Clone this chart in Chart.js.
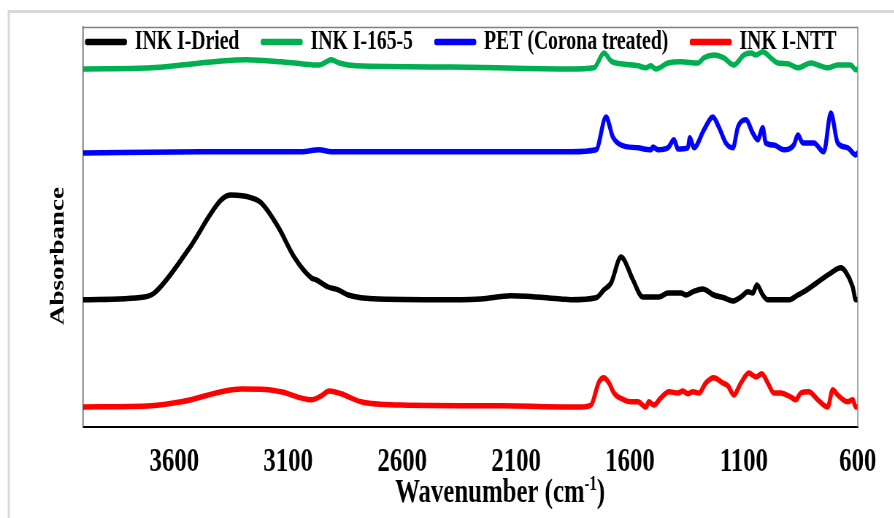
<!DOCTYPE html>
<html>
<head>
<meta charset="utf-8">
<title>FTIR spectra</title>
<script src="https://cdn.jsdelivr.net/npm/chart.js@4.4.1/dist/chart.umd.min.js"></script>
<style>
    html, body { margin: 0; padding: 0; background: #fff; overflow: hidden; }
    /* the original figure is squeezed horizontally, so draw wide and scale x */
    #wrap {
        position: absolute; left: 0; top: 0;
        width: 1225px; height: 518px;
        transform: scaleX(0.73); transform-origin: 0 0;
    }
</style>
</head>
<body>
<div id="wrap"><canvas id="ftirChart"></canvas></div>
<script>
const xTickValues = [3600, 3100, 2600, 2100, 1600, 1100, 600];
const xTitle = 'Wavenumber (cm';
const xTitleSup = '-1';
const yTitle = 'Absorbance';

// INK I-Dried
const driedWn = [4000, 3732, 3688, 3539, 3394, 3350, 3262, 3218, 3144, 3074, 2999, 2977, 2925, 2881, 2837, 2705,
    2341, 2254, 2122, 1903, 1859, 1749, 1714, 1683, 1639, 1626, 1587, 1543, 1473, 1433, 1376, 1354, 1324, 1280,
    1232, 1188, 1148, 1113, 1082, 1061, 1043, 1017, 995, 903, 863, 837, 718, 675, 653, 622, 609, 600];
const driedAbs = [31.8, 32.5, 33.5, 44.3, 56.8, 58.0, 57.3, 56.0, 50.0, 42.5, 37.3, 36.8, 35.0, 34.3, 33.0, 32.0,
    31.8, 32.0, 32.8, 32.0, 31.8, 32.3, 34.3, 36.0, 42.5, 41.8, 36.8, 32.5, 32.5, 33.5, 33.5, 33.0, 33.8, 34.5,
    33.0, 32.3, 31.5, 32.5, 33.8, 33.5, 35.5, 33.0, 31.8, 31.8, 33.0, 33.8, 38.5, 39.8, 38.8, 35.0, 31.8, 31.8];

// INK I-165-5
const ink165Wn = [4000, 3701, 3569, 3394, 3284, 3131, 3043, 2964, 2933, 2911, 2876, 2802, 2385, 1859, 1758, 1714,
    1683, 1639, 1565, 1530, 1508, 1486, 1433, 1376, 1302, 1275, 1232, 1188, 1144, 1100, 1069, 1047, 1017, 982,
    951, 907, 863, 806, 775, 732, 688, 631, 609, 600];
const ink165Abs = [89.5, 89.8, 90.5, 91.5, 91.8, 91.3, 90.8, 90.5, 91.3, 91.8, 91.0, 90.3, 90.0, 89.5, 89.8, 93.5,
    91.5, 90.8, 90.3, 89.8, 90.3, 89.5, 91.0, 91.3, 91.0, 92.3, 93.0, 92.3, 90.5, 93.0, 93.5, 93.0, 93.8, 92.3,
    91.0, 90.8, 89.8, 91.0, 90.5, 89.8, 90.5, 90.5, 89.3, 89.5];

// PET (Corona treated)
const petWn = [4000, 3482, 3043, 2964, 2911, 2385, 1859, 1749, 1705, 1675, 1639, 1565, 1508, 1499, 1477, 1433,
    1407, 1389, 1346, 1337, 1319, 1275, 1236, 1210, 1179, 1148, 1126, 1091, 1061, 1039, 1017, 1004, 968, 925,
    881, 863, 841, 793, 749, 718, 688, 644, 609, 600];
const petAbs = [68.5, 68.8, 68.8, 69.3, 68.8, 68.8, 68.8, 69.3, 77.5, 72.5, 70.5, 69.8, 69.3, 70.0, 69.3, 69.8,
    71.8, 69.5, 69.8, 72.3, 69.8, 74.3, 77.5, 75.0, 71.0, 69.8, 75.0, 76.8, 73.5, 71.8, 74.8, 71.0, 70.5, 69.3,
    70.5, 73.0, 71.0, 71.0, 68.8, 78.5, 71.0, 69.8, 68.0, 68.5];

// INK I-NTT
const nttWn = [4000, 3701, 3569, 3306, 3197, 3131, 2999, 2955, 2920, 2868, 2780, 2604, 2166, 1815, 1771, 1736,
    1714, 1692, 1670, 1626, 1596, 1565, 1530, 1517, 1495, 1464, 1429, 1389, 1368, 1346, 1324, 1297, 1267, 1232,
    1192, 1170, 1144, 1113, 1078, 1047, 1021, 995, 968, 938, 894, 872, 850, 815, 775, 732, 710, 688, 644, 622,
    609, 600];
const nttAbs = [5.0, 5.3, 6.3, 9.5, 9.4, 8.8, 6.8, 7.8, 9.0, 8.3, 6.3, 5.5, 5.3, 5.0, 5.5, 11.3,
    12.3, 11.0, 8.5, 6.8, 6.3, 6.3, 5.0, 6.3, 5.5, 7.3, 8.8, 8.5, 9.0, 8.3, 8.8, 8.5, 11.0, 12.3,
    11.0, 10.3, 8.0, 11.0, 13.5, 12.5, 13.3, 11.0, 8.5, 8.5, 7.5, 6.8, 8.5, 8.8, 6.8, 5.0, 9.3, 8.0, 6.3, 6.8,
    5.0, 5.0];

const FONT = "'Liberation Serif', 'Times New Roman', serif";
const LEGEND_FONT = 27;

function makeDataset(label, color, wn, abs) {
    return {
        label: label,
        data: wn.map((x, i) => ({ x: x, y: abs[i] })),
        borderColor: color,
        backgroundColor: color,
        borderWidth: 5.5,
        borderJoinStyle: 'round',
        borderCapStyle: 'round',
        pointRadius: 0,
        cubicInterpolationMode: 'monotone',
    };
}

// frame, axis titles and legend placement inside the plot box
const decorPlugin = {
    id: 'decor',
    afterLayout(chart) {
        const lg = chart.legend;
        const area = chart.chartArea;
        const pad = lg.options.labels.padding;
        // widen the box on both sides so the single row never wraps
        lg.left = area.left - 12 - 200;
        lg.right = area.right - 12 + 200;
        lg.top = area.top + 15 - pad - LEGEND_FONT / 2;
        lg.bottom = lg.top + 90;
    },
    beforeDraw(chart) {
        const ctx = chart.ctx;
        ctx.save();
        ctx.strokeStyle = '#d9d9d9';
        ctx.lineWidth = 3;
        ctx.strokeRect(12, 11.5, chart.width + 40, chart.height + 40);
        ctx.restore();
    },
    afterDraw(chart) {
        const ctx = chart.ctx;
        const a = chart.chartArea;
        ctx.save();
        ctx.strokeStyle = '#808080';
        ctx.lineWidth = 1.4;
        ctx.beginPath();
        ctx.moveTo(a.left, a.top + 0.5);
        ctx.lineTo(a.right, a.top + 0.5);
        ctx.lineTo(a.right, a.bottom);
        ctx.stroke();

        ctx.fillStyle = '#000';
        // y title
        ctx.save();
        ctx.font = 'bold 27px ' + FONT;
        ctx.textAlign = 'center';
        ctx.textBaseline = 'alphabetic';
        ctx.translate(87, 256);
        ctx.rotate(-Math.PI / 2);
        ctx.fillText(yTitle, 0, 0);
        ctx.restore();

        // x title with superscript
        const mainFont = 'bold 34px ' + FONT;
        const supFont = 'bold 20px ' + FONT;
        ctx.textBaseline = 'alphabetic';
        ctx.textAlign = 'left';
        ctx.font = mainFont;
        const w1 = ctx.measureText(xTitle).width;
        const w3 = ctx.measureText(')').width;
        ctx.font = supFont;
        const w2 = ctx.measureText(xTitleSup).width;
        let x = 685 - (w1 + w2 + w3) / 2;
        const baseY = 502;
        ctx.font = mainFont;
        ctx.fillText(xTitle, x, baseY);
        x += w1;
        ctx.font = supFont;
        ctx.fillText(xTitleSup, x, baseY - 12);
        x += w2;
        ctx.font = mainFont;
        ctx.fillText(')', x, baseY);
        ctx.restore();
    }
};

const ctx = document.getElementById('ftirChart').getContext('2d');
new Chart(ctx, {
    type: 'line',
    data: {
        datasets: [
            makeDataset('INK I-Dried', '#000000', driedWn, driedAbs),
            makeDataset('INK I-165-5', '#00b050', ink165Wn, ink165Abs),
            makeDataset('PET (Corona treated)', '#0000ff', petWn, petAbs),
            makeDataset('INK I-NTT', '#ff0000', nttWn, nttAbs),
        ]
    },
    options: {
        responsive: true,
        maintainAspectRatio: false,
        animation: false,
        layout: {
            padding: { left: 0, right: 50, top: 0, bottom: 0 }
        },
        scales: {
            x: {
                type: 'linear',
                reverse: true,
                min: 600,
                max: 4000,
                afterBuildTicks: (scale) => {
                    scale.ticks = xTickValues.map(v => ({ value: v }));
                },
                afterFit: (scale) => {
                    scale.height = 91;
                },
                grid: {
                    display: false,
                    drawTicks: false
                },
                border: {
                    display: true,
                    color: '#000',
                    width: 2
                },
                ticks: {
                    padding: 15,
                    color: '#000',
                    maxRotation: 0,
                    autoSkip: false,
                    font: { family: FONT, size: 34, weight: 'bold' },
                    callback: (v) => String(v)
                }
            },
            y: {
                min: 0,
                max: 100,
                afterFit: (scale) => {
                    scale.width = 114;
                },
                grid: {
                    display: false,
                    drawTicks: false
                },
                border: {
                    display: true,
                    color: '#595959',
                    width: 1.5
                },
                ticks: {
                    display: false
                }
            }
        },
        plugins: {
            legend: {
                position: 'top',
                maxHeight: 27,
                labels: {
                    color: '#000',
                    boxWidth: 52,
                    boxHeight: 1,
                    padding: 32,
                    font: { family: FONT, size: LEGEND_FONT, weight: 'bold' }
                }
            },
            tooltip: {
                enabled: false
            }
        }
    },
    plugins: [decorPlugin]
});
</script>
</body>
</html>
